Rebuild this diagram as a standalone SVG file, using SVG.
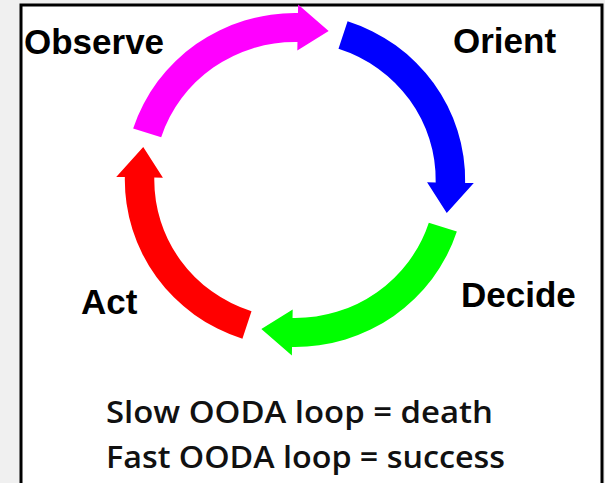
<svg xmlns="http://www.w3.org/2000/svg" xmlns:xlink="http://www.w3.org/1999/xlink" width="605" height="483" viewBox="0 0 605 483">
  <style>
    .lbl { font-family: "Liberation Sans", Arial, sans-serif; font-weight: bold; font-size: 35px; fill: #000; }
    .note { font-family: "Open Sans", "Noto Sans", sans-serif; font-size: 30px; font-weight: 600; fill: #111; }
  </style>
  <defs>
    <path id="arc-arrow" d="M159.30,51.76 A167.5,167.5 0 0 1 -2.92,167.47 L-3.07,175.97 L-33.12,149.37 L-2.27,129.98 L-2.42,138.48 A138.5,138.5 0 0 0 131.72,42.80 Z"/>
  </defs>
  <rect x="0" y="0" width="605" height="483" fill="#f0f0f0"/>
  <rect x="21" y="5" width="581" height="490" fill="#ffffff" stroke="#000000" stroke-width="3"/>

  <g id="connectors" transform="translate(295,180) scale(1.016,0.9967)">
    <use xlink:href="#arc-arrow" fill="#00ff00"/>
    <use xlink:href="#arc-arrow" fill="#ff0000" transform="rotate(90)"/>
    <use xlink:href="#arc-arrow" fill="#ff00ff" transform="rotate(180)"/>
    <use xlink:href="#arc-arrow" fill="#0000ff" transform="rotate(270)"/>
  </g>

  <g id="observe"><text class="lbl" x="24" y="54">Observe</text></g>
  <g id="orient"><text class="lbl" x="453" y="53">Orient</text></g>
  <g id="decide"><text class="lbl" x="461" y="307" font-size="36">Decide</text></g>
  <g id="act"><text class="lbl" x="81" y="314">Act</text></g>

  <g id="caption">
    <text class="note" x="106" y="423" textLength="387" lengthAdjust="spacingAndGlyphs">Slow OODA loop = death</text>
    <text class="note" x="106" y="468" textLength="399" lengthAdjust="spacingAndGlyphs">Fast OODA loop = success</text>
  </g>
</svg>
